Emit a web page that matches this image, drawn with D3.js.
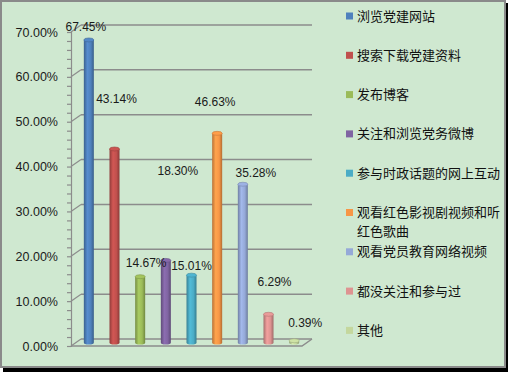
<!DOCTYPE html>
<html>
<head>
<meta charset="utf-8">
<script src="https://cdn.jsdelivr.net/npm/d3@7/dist/d3.min.js"></script>
<style>
html,body{margin:0;padding:0;background:#fff;}
svg{display:block;}
</style>
</head>
<body>
<svg id="chart" width="508" height="372"></svg>
<script>
/* 数据 */
// 分类
var CATEGORIES=["浏览党建网站","搜索下载党建资料","发布博客","关注和浏览党务微博","参与时政话题的网上互动","观看红色影视剧视频和听红色歌曲","观看党员教育网络视频","都没关注和参与过","其他"];
// 比例
var VALUES=[0.6745,0.4314,0.1467,0.1830,0.1501,0.4663,0.3528,0.0629,0.0039];
// 纵轴刻度
var Y_TICKS=[0,0.1,0.2,0.3,0.4,0.5,0.6,0.7];

/* 样式 */
var BAR_COLORS=["#4F81BD","#C0504D","#9BBB59","#8064A2","#4BACC6","#F79646","#95A9D8","#DE9391","#C4D79D"];
// 数据标签微调 [dx,dy]（Excel里标签位置不规则）
var LABEL_NUDGE=[[-3,-9],[2,-46],[6,-10],[12,-85],[0,-5],[-2,-27],[13,-7],[6,-28],[11,-14]];

/* Global Config */
var WIDTH=508, HEIGHT=372;
var PLOT_LEFT=71, PLOT_RIGHT=302;
var PLOT_TOP=32, PLOT_BOTTOM=346;
// 三维进深偏移
var DX=10, DY=-7;
var BAR_WIDTH=10;
var BG="#CFE8D0";
var GRID="#8C8C8C";
var LEGEND_X=346, LEGEND_Y=16, LEGEND_STEP=39.3, LEGEND_WRAP=146;

var svg=d3.select("#chart");

var x=d3.scaleBand().domain(CATEGORIES).range([PLOT_LEFT,PLOT_RIGHT]);
var y=d3.scaleLinear().domain([0,0.7]).range([PLOT_BOTTOM,PLOT_TOP]);
var color=d3.scaleOrdinal().domain(CATEGORIES).range(BAR_COLORS);

drawFrame();
drawWalls();
drawAxis();
drawBars();
drawLabels();
drawLegend();

//背景和边框
function drawFrame(){
	svg.append("rect")
		.attr("x",WIDTH-3).attr("y",3).attr("width",3).attr("height",HEIGHT-3)
		.style("fill","#000");
	svg.append("rect")
		.attr("x",3).attr("y",HEIGHT-5).attr("width",WIDTH-3).attr("height",5)
		.style("fill","#000");
	svg.append("rect")
		.attr("x",1).attr("y",1).attr("width",WIDTH-4).attr("height",HEIGHT-6)
		.style("fill",BG)
		.style("stroke","#8A8A8A")
		.style("stroke-width","2px");
}

//背景墙网格线和底面
function drawWalls(){
	var g=svg.append("g").attr("class","walls");
	Y_TICKS.forEach(function(t){
		g.append("line")
			.attr("x1",PLOT_LEFT+DX).attr("x2",PLOT_RIGHT+DX)
			.attr("y1",y(t)+DY).attr("y2",y(t)+DY)
			.style("stroke",GRID).style("stroke-width","1.5px");
		g.append("line")
			.attr("x1",PLOT_LEFT).attr("x2",PLOT_LEFT+DX)
			.attr("y1",y(t)).attr("y2",y(t)+DY)
			.style("stroke",GRID).style("stroke-width","1.2px");
	});
	//底面
	g.append("path")
		.attr("d","M"+PLOT_LEFT+","+y(0)+"L"+PLOT_RIGHT+","+y(0)+"L"+(PLOT_RIGHT+DX)+","+(y(0)+DY))
		.style("fill","none").style("stroke",GRID).style("stroke-width","1.5px");
}

//纵轴
function drawAxis(){
	var minor=d3.range(0,0.7001,0.02);
	svg.append("g")
		.attr("transform","translate("+PLOT_LEFT+",0)")
		.call(d3.axisLeft(y).tickValues(minor).tickSize(4).tickFormat(""))
		.call(function(g){
			g.selectAll("line,path").style("stroke",GRID).style("stroke-width","1.2px");
		});
	svg.append("g")
		.attr("transform","translate("+PLOT_LEFT+",0)")
		.call(d3.axisLeft(y).tickValues(Y_TICKS).tickSize(0).tickPadding(13).tickFormat(d3.format(".2%")))
		.call(function(g){
			g.select(".domain").remove();
			g.selectAll("text")
				.style("font-family","'Liberation Sans',Arial,sans-serif")
				.style("font-size","12.5px")
				.style("fill","#1a1a1a");
		});
}

//柱子（圆柱）
function drawBars(){
	var defs=svg.append("defs");
	CATEGORIES.forEach(function(c,i){
		var base=d3.color(color(c));
		var grad=defs.append("linearGradient").attr("id","grad"+i).attr("x1","0").attr("x2","1").attr("y1","0").attr("y2","0");
		grad.append("stop").attr("offset","0").attr("stop-color",base.darker(0.8));
		grad.append("stop").attr("offset","0.35").attr("stop-color",base.brighter(0.25));
		grad.append("stop").attr("offset","0.7").attr("stop-color",base);
		grad.append("stop").attr("offset","1").attr("stop-color",base.darker(0.9));
	});
	var bars=svg.append("g").attr("class","bars")
		.selectAll("g").data(CATEGORIES).join("g");
	bars.each(function(c,i){
		var g=d3.select(this);
		var cx=x(c)+x.bandwidth()/2+DX/2;
		var yb=y(0)+DY/2;
		var yt=y(VALUES[i])+DY/2;
		var rx=BAR_WIDTH/2, ry=2;
		var base=d3.color(color(c));
		g.append("path")
			.attr("d","M"+(cx-rx)+","+yt+"L"+(cx-rx)+","+yb+"A"+rx+","+ry+" 0 0 0 "+(cx+rx)+","+yb+"L"+(cx+rx)+","+yt+"Z")
			.style("fill","url(#grad"+i+")");
		g.append("ellipse")
			.attr("cx",cx).attr("cy",yt).attr("rx",rx).attr("ry",ry)
			.style("fill",base.brighter(0.15))
			.style("stroke",base.darker(0.6))
			.style("stroke-width","0.6px");
	});
}

//数据标签
function drawLabels(){
	svg.append("g").attr("class","labels")
		.selectAll("text").data(CATEGORIES).join("text")
		.attr("x",function(c,i){return x(c)+x.bandwidth()/2+DX/2+LABEL_NUDGE[i][0];})
		.attr("y",function(c,i){return y(VALUES[i])+DY/2+LABEL_NUDGE[i][1];})
		.attr("text-anchor","middle")
		.style("font-family","'Liberation Sans',Arial,sans-serif")
		.style("font-size","12px")
		.style("fill","#1a1a1a")
		.text(function(c,i){return d3.format(".2%")(VALUES[i]);});
}

//图例
function drawLegend(){
	var items=svg.append("g").attr("class","legend")
		.selectAll("g").data(CATEGORIES).join("g")
		.attr("transform",function(c,i){return "translate("+LEGEND_X+","+(LEGEND_Y+i*LEGEND_STEP)+")";});
	items.append("rect")
		.attr("x",0).attr("y",-3.5).attr("width",7).attr("height",7)
		.style("fill",function(c){return color(c);});
	items.each(function(c){
		var t=d3.select(this).append("text")
			.attr("x",11).attr("y",4.5)
			.style("font-family","'Noto Sans CJK SC',sans-serif")
			.style("font-size","13px")
			.style("fill","#111");
		var tspan=t.append("tspan").attr("x",11).text("");
		var chars=c.split(""), line="";
		for(var k=0;k<chars.length;k++){
			tspan.text(line+chars[k]);
			if(tspan.node().getComputedTextLength()>LEGEND_WRAP&&line.length>0){
				tspan.text(line);
				line=chars[k];
				tspan=t.append("tspan").attr("x",11).attr("dy",19).text(line);
			}
			else{line+=chars[k];}
		}
	});
}
</script>
</body>
</html>
